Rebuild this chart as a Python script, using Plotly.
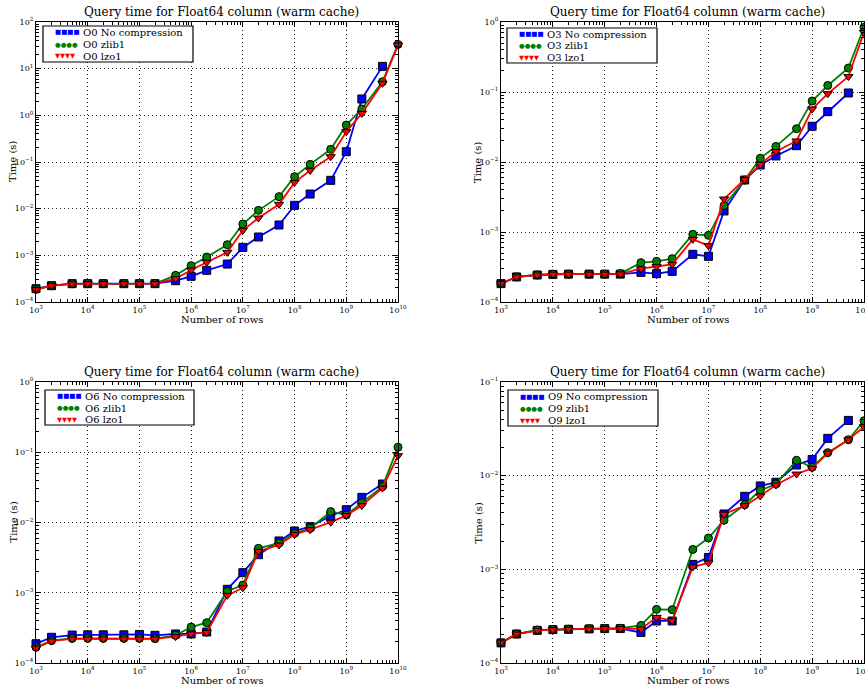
import plotly.graph_objects as go

rows = [1e3, 2e3, 5e3, 1e4, 2e4, 5e4, 1e5, 2e5, 5e5, 1e6, 2e6, 5e6,
        1e7, 2e7, 5e7, 1e8, 2e8, 5e8, 1e9, 2e9, 5e9, 1e10]

o0_none = [1.93e-4, 2.24e-4, 2.47e-4, 2.47e-4, 2.47e-4, 2.47e-4, 2.47e-4, 2.47e-4, 2.86e-4, 3.55e-4, 4.78e-4,
           6.5e-4, 1.48e-3, 2.47e-3, 4.47e-3, 1.18e-2, 2.06e-2, 4.05e-2, 1.66e-1, 2.24, 1.12e1]
o0_zlib = [1.87e-4, 2.24e-4, 2.45e-4, 2.47e-4, 2.47e-4, 2.47e-4, 2.47e-4, 2.47e-4, 3.73e-4, 6.0e-4, 9.2e-4,
           1.69e-3, 4.69e-3, 9.2e-3, 1.81e-2, 4.85e-2, 8.9e-2, 1.87e-1, 6.2e-1, 1.37, 5.25, 3.3e1]
o0_lzo = [1.85e-4, 2.24e-4, 2.45e-4, 2.47e-4, 2.47e-4, 2.47e-4, 2.47e-4, 2.47e-4, 3.16e-4, 4.85e-4, 7.1e-4,
          1.16e-3, 3.44e-3, 6.3e-3, 1.24e-2, 3.66e-2, 6.6e-2, 1.3e-1, 4.46e-1, 1.1, 4.85, 3.2e1]

o3_none = [1.83e-4, 2.28e-4, 2.43e-4, 2.48e-4, 2.5e-4, 2.5e-4, 2.5e-4, 2.5e-4, 2.65e-4, 2.54e-4, 2.74e-4,
           4.8e-4, 4.49e-4, 2.0e-3, 5.53e-3, 9.06e-3, 1.22e-2, 1.71e-2, 3.24e-2, 5.24e-2, 9.68e-2]
o3_zlib = [1.83e-4, 2.28e-4, 2.43e-4, 2.5e-4, 2.5e-4, 2.5e-4, 2.5e-4, 2.55e-4, 3.65e-4, 3.81e-4, 4.16e-4,
           9.27e-4, 8.96e-4, 2.38e-3, 5.53e-3, 1.13e-2, 1.67e-2, 2.99e-2, 7.44e-2, 1.24e-1, 2.2e-1, 8.4e-1]
o3_lzo = [1.83e-4, 2.28e-4, 2.43e-4, 2.5e-4, 2.5e-4, 2.5e-4, 2.5e-4, 2.52e-4, 2.99e-4, 3.2e-4, 3.45e-4,
          7.86e-4, 6.38e-4, 2.96e-3, 5.6e-3, 9.27e-3, 1.41e-2, 2.0e-2, 5.71e-2, 9.46e-2, 1.66e-1, 7.1e-1]

o6_none = [1.88e-4, 2.32e-4, 2.5e-4, 2.52e-4, 2.52e-4, 2.52e-4, 2.55e-4, 2.48e-4, 2.59e-4, 2.59e-4, 2.76e-4,
           1.12e-3, 1.93e-3, 3.48e-3, 5.46e-3, 7.57e-3, 8.73e-3, 1.24e-2, 1.52e-2, 2.28e-2, 3.53e-2]
o6_zlib = [1.67e-4, 2.08e-4, 2.24e-4, 2.24e-4, 2.24e-4, 2.24e-4, 2.24e-4, 2.22e-4, 2.48e-4, 3.25e-4, 3.75e-4,
           1.05e-3, 1.29e-3, 4.29e-3, 5.1e-3, 7.02e-3, 8.26e-3, 1.43e-2, 1.28e-2, 1.91e-2, 3.24e-2, 1.18e-1]
o6_lzo = [1.63e-4, 2.06e-4, 2.2e-4, 2.2e-4, 2.2e-4, 2.2e-4, 2.2e-4, 2.2e-4, 2.37e-4, 2.59e-4, 2.72e-4,
          9.19e-4, 1.18e-3, 3.89e-3, 4.78e-3, 6.79e-3, 7.9e-3, 1.01e-2, 1.26e-2, 1.74e-2, 3.09e-2, 8.93e-2]

o9_none = [1.64e-4, 2.04e-4, 2.23e-4, 2.27e-4, 2.29e-4, 2.31e-4, 2.33e-4, 2.33e-4, 2.12e-4, 2.81e-4, 2.81e-4,
           1.13e-3, 1.34e-3, 3.9e-3, 6.02e-3, 7.77e-3, 8.5e-3, 1.3e-2, 1.49e-2, 2.5e-2, 3.89e-2]
o9_zlib = [1.64e-4, 2.04e-4, 2.25e-4, 2.28e-4, 2.3e-4, 2.33e-4, 2.33e-4, 2.35e-4, 2.52e-4, 3.74e-4, 3.71e-4,
           1.63e-3, 2.16e-3, 3.34e-3, 4.89e-3, 6.97e-3, 8.15e-3, 1.46e-2, 1.23e-2, 1.76e-2, 2.42e-2, 3.86e-2]
o9_lzo = [1.64e-4, 2.04e-4, 2.23e-4, 2.27e-4, 2.3e-4, 2.31e-4, 2.33e-4, 2.33e-4, 2.31e-4, 3.07e-4, 2.83e-4,
          1.06e-3, 1.17e-3, 3.88e-3, 4.78e-3, 6.07e-3, 7.95e-3, 1.04e-2, 1.2e-2, 1.74e-2, 2.41e-2, 3.33e-2]

panel_names = ["O0", "O3", "O6", "O9"]
panel_series = [(o0_none, o0_zlib, o0_lzo), (o3_none, o3_zlib, o3_lzo),
                (o6_none, o6_zlib, o6_lzo), (o9_none, o9_zlib, o9_lzo)]
y_exp_ranges = [(-4, 2), (-4, 0), (-4, 0), (-4, -1)]
series_labels = ["No compression", "zlib1", "lzo1"]

title_text = "Query time for Float64 column (warm cache)"
xlabel = "Number of rows"
ylabel = "Time (s)"

W, H = 865, 689
FONT = "DejaVu Serif"
EPS = 1e-6  # keep edge points inside the axis range

def px(x):
    return x / W

def py(y):
    return 1 - y / H

# pixel boxes of the four plot areas (left, right, top, bottom)
boxes = [(36, 398, 22, 302), (501, 864, 22, 302),
         (36, 398, 382, 663), (501, 864, 382, 663)]
# legend boxes (left, top, right, bottom)
legend_boxes = [(43, 26, 193, 62), (507, 28, 657, 63), (45, 390, 194, 425), (508, 390, 658, 426)]

styles = [dict(color="#0000ff", symbol="square", glyph="\u25a0"),
          dict(color="#008000", symbol="circle", glyph="\u25cf"),
          dict(color="#ff0000", symbol="triangle-down", glyph="\u25bc")]

def sup(e):
    s = str(e).replace("-", "\u2212")
    return "10<sup>%s</sup>" % s

def minor_vals(lo, hi):
    return [m * 10 ** e for e in range(lo, hi) for m in range(2, 10)]

fig = go.Figure()
annotations = []
shapes = []
layout = {}
for i, (name, series) in enumerate(zip(panel_names, panel_series)):
    l, r, t, b = boxes[i]
    xa = "x" if i == 0 else "x%d" % (i + 1)
    ya = "y" if i == 0 else "y%d" % (i + 1)
    for vals, lab, st in zip(series, series_labels, styles):
        fig.add_trace(go.Scatter(
            x=rows[:len(vals)], y=vals, mode="lines+markers",
            name="%s %s" % (name, lab), showlegend=False,
            line=dict(color=st["color"], width=1.8),
            marker=dict(symbol=st["symbol"], size=8,
                        color=st["color"], line=dict(color="black", width=1)),
            xaxis=xa, yaxis=ya, cliponaxis=False))
    ymin, ymax = y_exp_ranges[i]
    common = dict(type="log", showline=True, linecolor="black", linewidth=1.2,
                  mirror="allticks", ticks="inside", ticklen=5, tickcolor="black",
                  showgrid=True, gridcolor="#222222", griddash="1px,3px", gridwidth=1,
                  zeroline=False, automargin=False, tickmode="array",
                  ticklabeloverflow="allow",
                  tickfont=dict(family=FONT, size=8, color="black"))
    layout["xaxis" if i == 0 else "xaxis%d" % (i + 1)] = dict(
        common, domain=[px(l), px(r)], range=[3 - EPS, 10 + EPS], anchor=ya,
        tickvals=[10 ** k for k in range(3, 11)], ticktext=[sup(k) for k in range(3, 11)],
        minor=dict(tickmode="array", tickvals=minor_vals(3, 10), ticks="inside",
                   ticklen=2.5, tickcolor="black", showgrid=False))
    layout["yaxis" if i == 0 else "yaxis%d" % (i + 1)] = dict(
        common, domain=[py(b), py(t)], range=[ymin - EPS, ymax + EPS], anchor=xa,
        tickvals=[10 ** k for k in range(ymin, ymax + 1)],
        ticktext=[sup(k) for k in range(ymin, ymax + 1)],
        minor=dict(tickmode="array", tickvals=minor_vals(ymin, ymax), ticks="inside",
                   ticklen=2.5, tickcolor="black", showgrid=False))

    # legend box drawn as text lines inside a frame
    bl, bt, br, bb = legend_boxes[i]
    shapes.append(dict(type="rect", xref="paper", yref="paper",
                       x0=px(bl), x1=px(br), y0=py(bb), y1=py(bt),
                       line=dict(color="black", width=1.2), fillcolor="white", layer="above"))
    step = (bb - bt) / 3.0
    for j, (lab, st) in enumerate(zip(series_labels, styles)):
        yc = bt + step * (j + 0.5) + 0.5
        annotations.append(dict(
            text='<span style="color:%s">%s</span>' % (st["color"], st["glyph"] * 4),
            x=px(bl + 10), y=py(yc), xref="paper", yref="paper", showarrow=False,
            xanchor="left", yanchor="middle",
            font=dict(family="DejaVu Sans", size=6.5, color=st["color"])))
        annotations.append(dict(
            text="%s %s" % (name, lab), x=px(bl + 38), y=py(yc),
            xref="paper", yref="paper", showarrow=False, xanchor="left", yanchor="middle",
            font=dict(family=FONT, size=10, color="black")))

    cx = (l + r) / 2 + 5
    annotations.append(dict(text=title_text, x=px(cx), y=py(t - 10), xref="paper", yref="paper",
                            showarrow=False, xanchor="center", yanchor="middle",
                            font=dict(family=FONT, size=12, color="black")))
    annotations.append(dict(text=xlabel, x=px(cx), y=py(b + 17), xref="paper", yref="paper",
                            showarrow=False, xanchor="center", yanchor="middle",
                            font=dict(family=FONT, size=10, color="black")))
    annotations.append(dict(text=ylabel, x=px(l - 23), y=py((t + b) / 2), xref="paper", yref="paper",
                            showarrow=False, xanchor="center", yanchor="middle", textangle=-90,
                            font=dict(family=FONT, size=10, color="black")))

fig.update_layout(width=W, height=H, margin=dict(l=0, r=0, t=0, b=0),
                  paper_bgcolor="white", plot_bgcolor="white", showlegend=False,
                  annotations=annotations, shapes=shapes, **layout)
fig.write_html("out.html", config={"displayModeBar": False},
               post_script="document.body.style.margin='0';document.body.style.overflow='hidden';")
